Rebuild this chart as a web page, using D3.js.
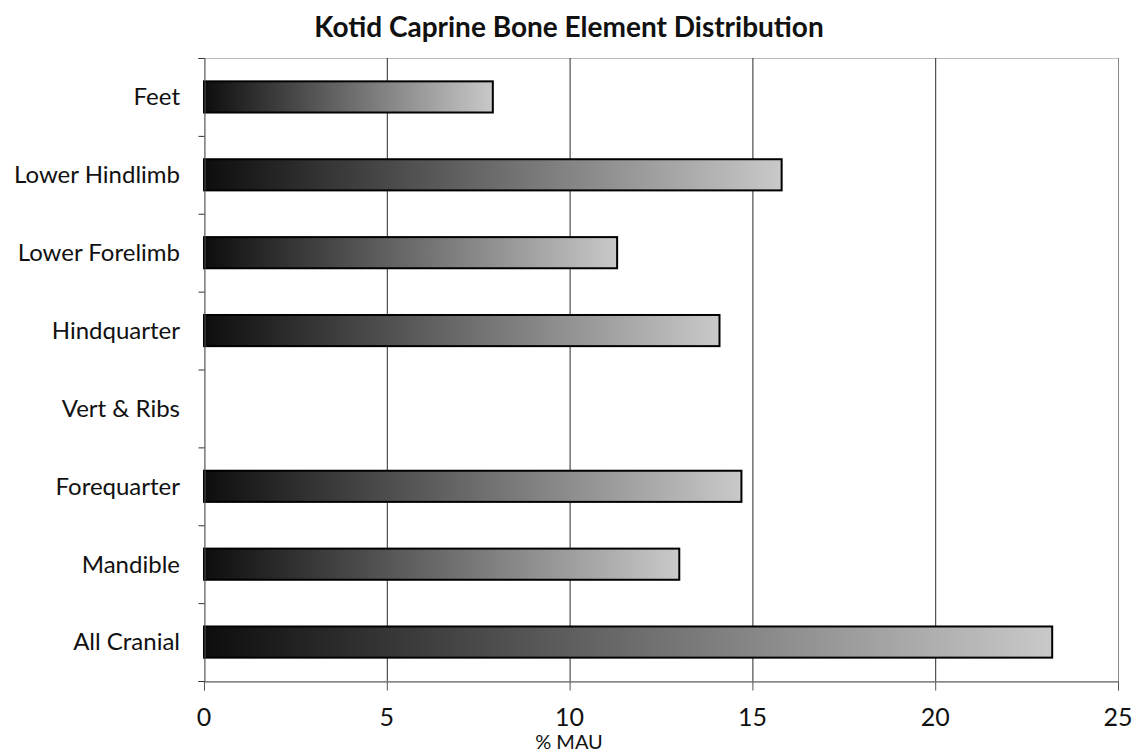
<!DOCTYPE html>
<html>
<head>
<meta charset="utf-8">
<script src="https://d3js.org/d3.v7.min.js"></script>
<style>
  body { margin: 0; background: #fff; }
  svg text { font-family: Lato, "Open Sans", sans-serif; fill: #111; }
</style>
</head>
<body>
<svg id="chart" width="1138" height="754"></svg>
<script>
// data, top to bottom as drawn
var categories = ["Feet", "Lower Hindlimb", "Lower Forelimb", "Hindquarter", "Vert & Ribs", "Forequarter", "Mandible", "All Cranial"];
var mau = [7.9, 15.8, 11.3, 14.1, 0, 14.7, 13.0, 23.2];
var xTicks = [0, 5, 10, 15, 20, 25];

var svg = d3.select("#chart");
var plotL = 204, plotR = 1118, plotT = 58, plotB = 681;

var x = d3.scaleLinear().domain([0, 25]).range([plotL, plotR]);
var y = d3.scaleBand().domain(categories).range([plotT, plotB]).paddingInner(0.6).paddingOuter(0.3);

var defs = svg.append("defs");
var grad = defs.append("linearGradient").attr("id", "barGrad")
    .attr("x1", "0%").attr("x2", "100%").attr("y1", "0%").attr("y2", "0%");
grad.append("stop").attr("offset", "0%").attr("stop-color", "#0d0d0d");
grad.append("stop").attr("offset", "100%").attr("stop-color", "#c9c9c9");

// plot frame
svg.append("rect")
    .attr("x", plotL + 0.5).attr("y", plotT + 0.5)
    .attr("width", plotR - plotL).attr("height", plotB - plotT)
    .attr("fill", "none").attr("stroke", "#bbb").attr("stroke-width", 1);

// gridlines
svg.append("g").selectAll("line")
    .data(xTicks.slice(1))
    .enter().append("line")
    .attr("x1", d => x(d) + 0.5).attr("x2", d => x(d) + 0.5)
    .attr("y1", plotT).attr("y2", plotB)
    .attr("stroke", d => d == 25 ? "#888" : "#2a2a2a").attr("stroke-width", 1);

// bars
svg.append("g").selectAll("rect")
    .data(categories.map((c, i) => ({ cat: c, v: mau[i] })).filter(d => d.v > 0))
    .enter().append("rect")
    .attr("x", x(0))
    .attr("y", d => y(d.cat))
    .attr("width", d => x(d.v) - x(0))
    .attr("height", y.bandwidth())
    .attr("fill", "url(#barGrad)")
    .attr("stroke", "#000")
    .attr("stroke-width", 2);

// y axis
var yAxis = d3.axisLeft(d3.scaleLinear().domain([0, 8]).range([plotT, plotB]))
    .ticks(8).tickSize(6).tickFormat("");
var gy = svg.append("g").attr("transform", "translate(" + (plotL + 0.5) + ",0)").call(yAxis);
gy.select(".domain").attr("stroke", "#555");
gy.selectAll(".tick line").attr("stroke", "#333");

svg.append("g").selectAll("text")
    .data(categories)
    .enter().append("text")
    .attr("x", 180)
    .attr("y", d => y(d) + y.bandwidth() / 2)
    .attr("dy", "0.35em")
    .attr("text-anchor", "end")
    .attr("font-size", 24)
    .text(d => d);

// x axis
var xAxis = d3.axisBottom(x).tickValues(xTicks).tickSize(9).tickFormat("");
var gx = svg.append("g").attr("transform", "translate(0," + (plotB + 0.5) + ")").call(xAxis);
gx.select(".domain").attr("stroke", "#555");
gx.selectAll(".tick line").attr("stroke", "#555");

svg.append("g").selectAll("text")
    .data(xTicks)
    .enter().append("text")
    .attr("x", d => x(d))
    .attr("y", 726)
    .attr("text-anchor", "middle")
    .attr("font-size", 25)
    .text(d => d);

svg.append("text")
    .attr("x", 569).attr("y", 749)
    .attr("text-anchor", "middle")
    .attr("font-size", 20)
    .text("% MAU");

svg.append("text")
    .attr("x", 569).attr("y", 37)
    .attr("text-anchor", "middle")
    .attr("font-size", 28)
    .attr("font-weight", "bold")
    .text("Kotid Caprine Bone Element Distribution");
</script>
</body>
</html>
